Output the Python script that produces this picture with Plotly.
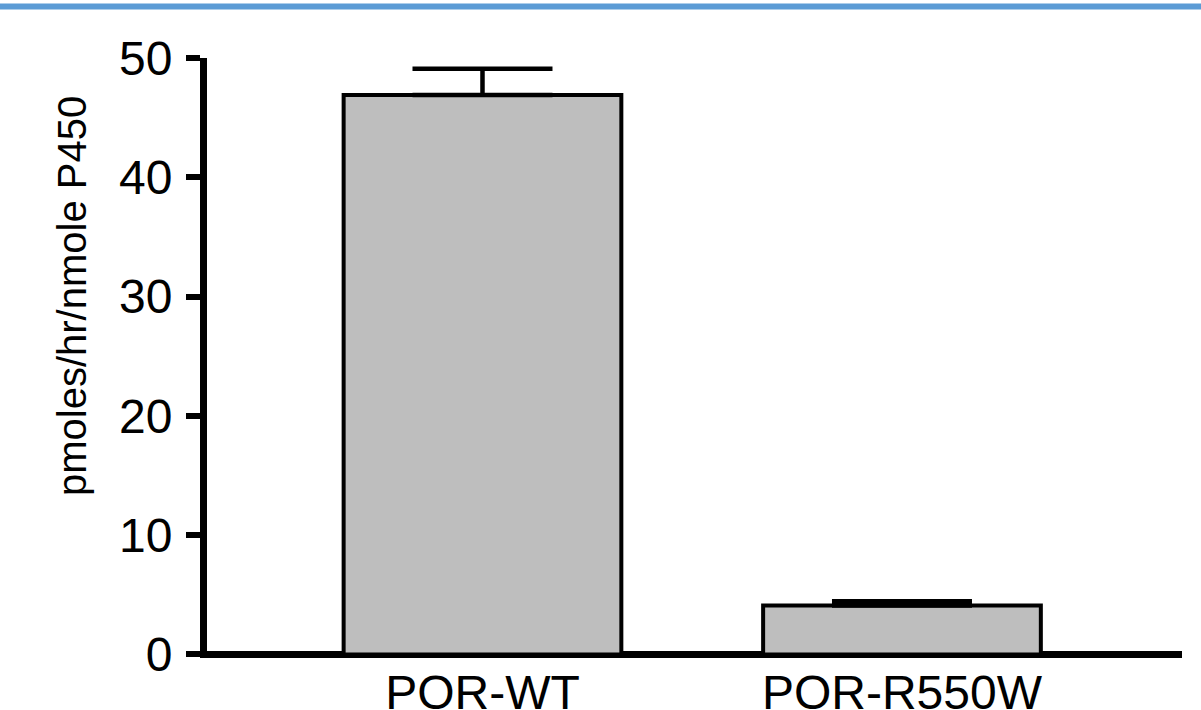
import plotly.graph_objects as go

categories = ["POR-WT", "POR-R550W"]
activity = [46.9, 4.1]
sem_upper = [2.2, 0.35]
y_ticks = [0, 10, 20, 30, 40, 50]
y_title = "pmoles/hr/nmole P450"

FONT = "Liberation Sans, Arial, Helvetica, sans-serif"

fig = go.Figure()
fig.add_trace(go.Bar(
    x=categories,
    y=activity,
    width=0.662,
    marker=dict(color="#bebebe", line=dict(color="black", width=4)),
    error_y=dict(type="data", symmetric=False, array=sem_upper,
                 arrayminus=[0] * len(sem_upper),
                 color="black", thickness=4.5, width=70),
    showlegend=False,
))

fig.update_layout(
    width=1201, height=710,
    margin=dict(l=207, r=19, t=58, b=52, pad=0, autoexpand=False),
    paper_bgcolor="white", plot_bgcolor="white",
    font=dict(family=FONT, color="black"),
    xaxis=dict(
        type="category", categoryorder="array", categoryarray=categories,
        range=[-0.6567, 1.6675], showline=False, showgrid=False,
        zeroline=False, ticks="", automargin=False, ticklabelstandoff=2,
        tickfont=dict(size=48, color="black"),
    ),
    yaxis=dict(
        range=[-0.3, 50], tickvals=y_ticks, ticktext=[str(v) for v in y_ticks],
        showline=True, linewidth=7, linecolor="black", automargin=False,
        ticks="outside", ticklen=14, tickwidth=6, tickcolor="black",
        ticklabelstandoff=4,
        showgrid=False, zeroline=True, zerolinewidth=7, zerolinecolor="black",
        tickfont=dict(size=48, color="black"),
    ),
    annotations=[dict(text=y_title, textangle=-90, showarrow=False,
                      xref="paper", yref="paper", x=(72 - 207) / 975,
                      y=(658 - 296) / 600, xanchor="center", yanchor="middle",
                      font=dict(size=40, color="black", family=FONT))],
    shapes=[dict(type="line", xref="paper", yref="paper",
                 x0=-1, x1=2, y0=(658 - 6.5) / 600, y1=(658 - 6.5) / 600,
                 line=dict(color="#5b9bd5", width=6), layer="above")],
)

fig.write_html("out.html", config={"displayModeBar": False},
               post_script="document.body.style.margin='0';document.body.style.overflow='hidden';")
